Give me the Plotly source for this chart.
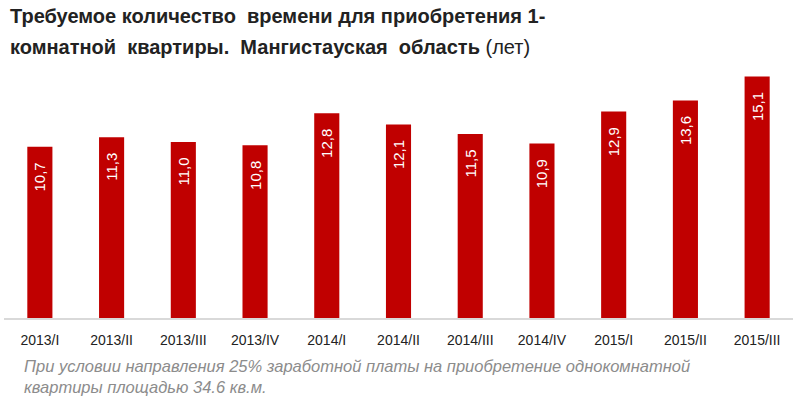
import plotly.graph_objects as go

categories = ["2013/I", "2013/II", "2013/III", "2013/IV", "2014/I", "2014/II",
              "2014/III", "2014/IV", "2015/I", "2015/II", "2015/III"]
values = [10.7, 11.3, 11.0, 10.8, 12.8, 12.1, 11.5, 10.9, 12.9, 13.6, 15.1]
labels = [f"{v:.1f}".replace(".", ",") + "\u00a0\u00a0\u00a0" for v in values]

FONT = "Liberation Sans, Arial, sans-serif"

fig = go.Figure(go.Bar(
    x=categories, y=values, text=labels,
    marker=dict(color="#C00000", line=dict(width=0)),
    textposition="inside", insidetextanchor="end", textangle=-90,
    textfont=dict(color="white", size=15, family=FONT),
    cliponaxis=False,
))

fig.update_layout(
    width=800, height=396,
    margin=dict(l=4, r=7, t=62, b=78),
    plot_bgcolor="white", paper_bgcolor="white",
    bargap=0.65,
    showlegend=False,
    xaxis=dict(showline=True, linecolor="#D9D9D9", linewidth=1.5, ticks="",
               automargin=False, ticklabelstandoff=8,
               tickfont=dict(size=14, color="#222", family=FONT), showgrid=False),
    yaxis=dict(range=[0, 16], visible=False, showgrid=False, automargin=False),
    annotations=[
        dict(text="<b>Требуемое количество  времени для приобретения 1-</b>",
             x=0.0051, y=1.1797, xref="paper", yref="paper", xanchor="left", yanchor="middle",
             showarrow=False, font=dict(size=20, color="#222", family=FONT)),
        dict(text="<b>комнатной  квартиры.  Мангистауская  область</b> (лет)",
             x=0.0051, y=1.0586, xref="paper", yref="paper", xanchor="left", yanchor="middle",
             showarrow=False, font=dict(size=20, color="#222", family=FONT)),
        dict(text="<i>При условии направления 25% заработной платы на приобретение однокомнатной</i>",
             x=0.0228, y=-0.1875, xref="paper", yref="paper", xanchor="left", yanchor="middle",
             showarrow=False, font=dict(size=16.5, color="#8C8C8C", family=FONT)),
        dict(text="<i>квартиры площадью 34.6 кв.м.</i>",
             x=0.0228, y=-0.2695, xref="paper", yref="paper", xanchor="left", yanchor="middle",
             showarrow=False, font=dict(size=16.5, color="#8C8C8C", family=FONT)),
    ],
)
fig.write_html("out.html", config={"displayModeBar": False},
               post_script="document.body.style.margin='0';document.body.style.padding='0';")
